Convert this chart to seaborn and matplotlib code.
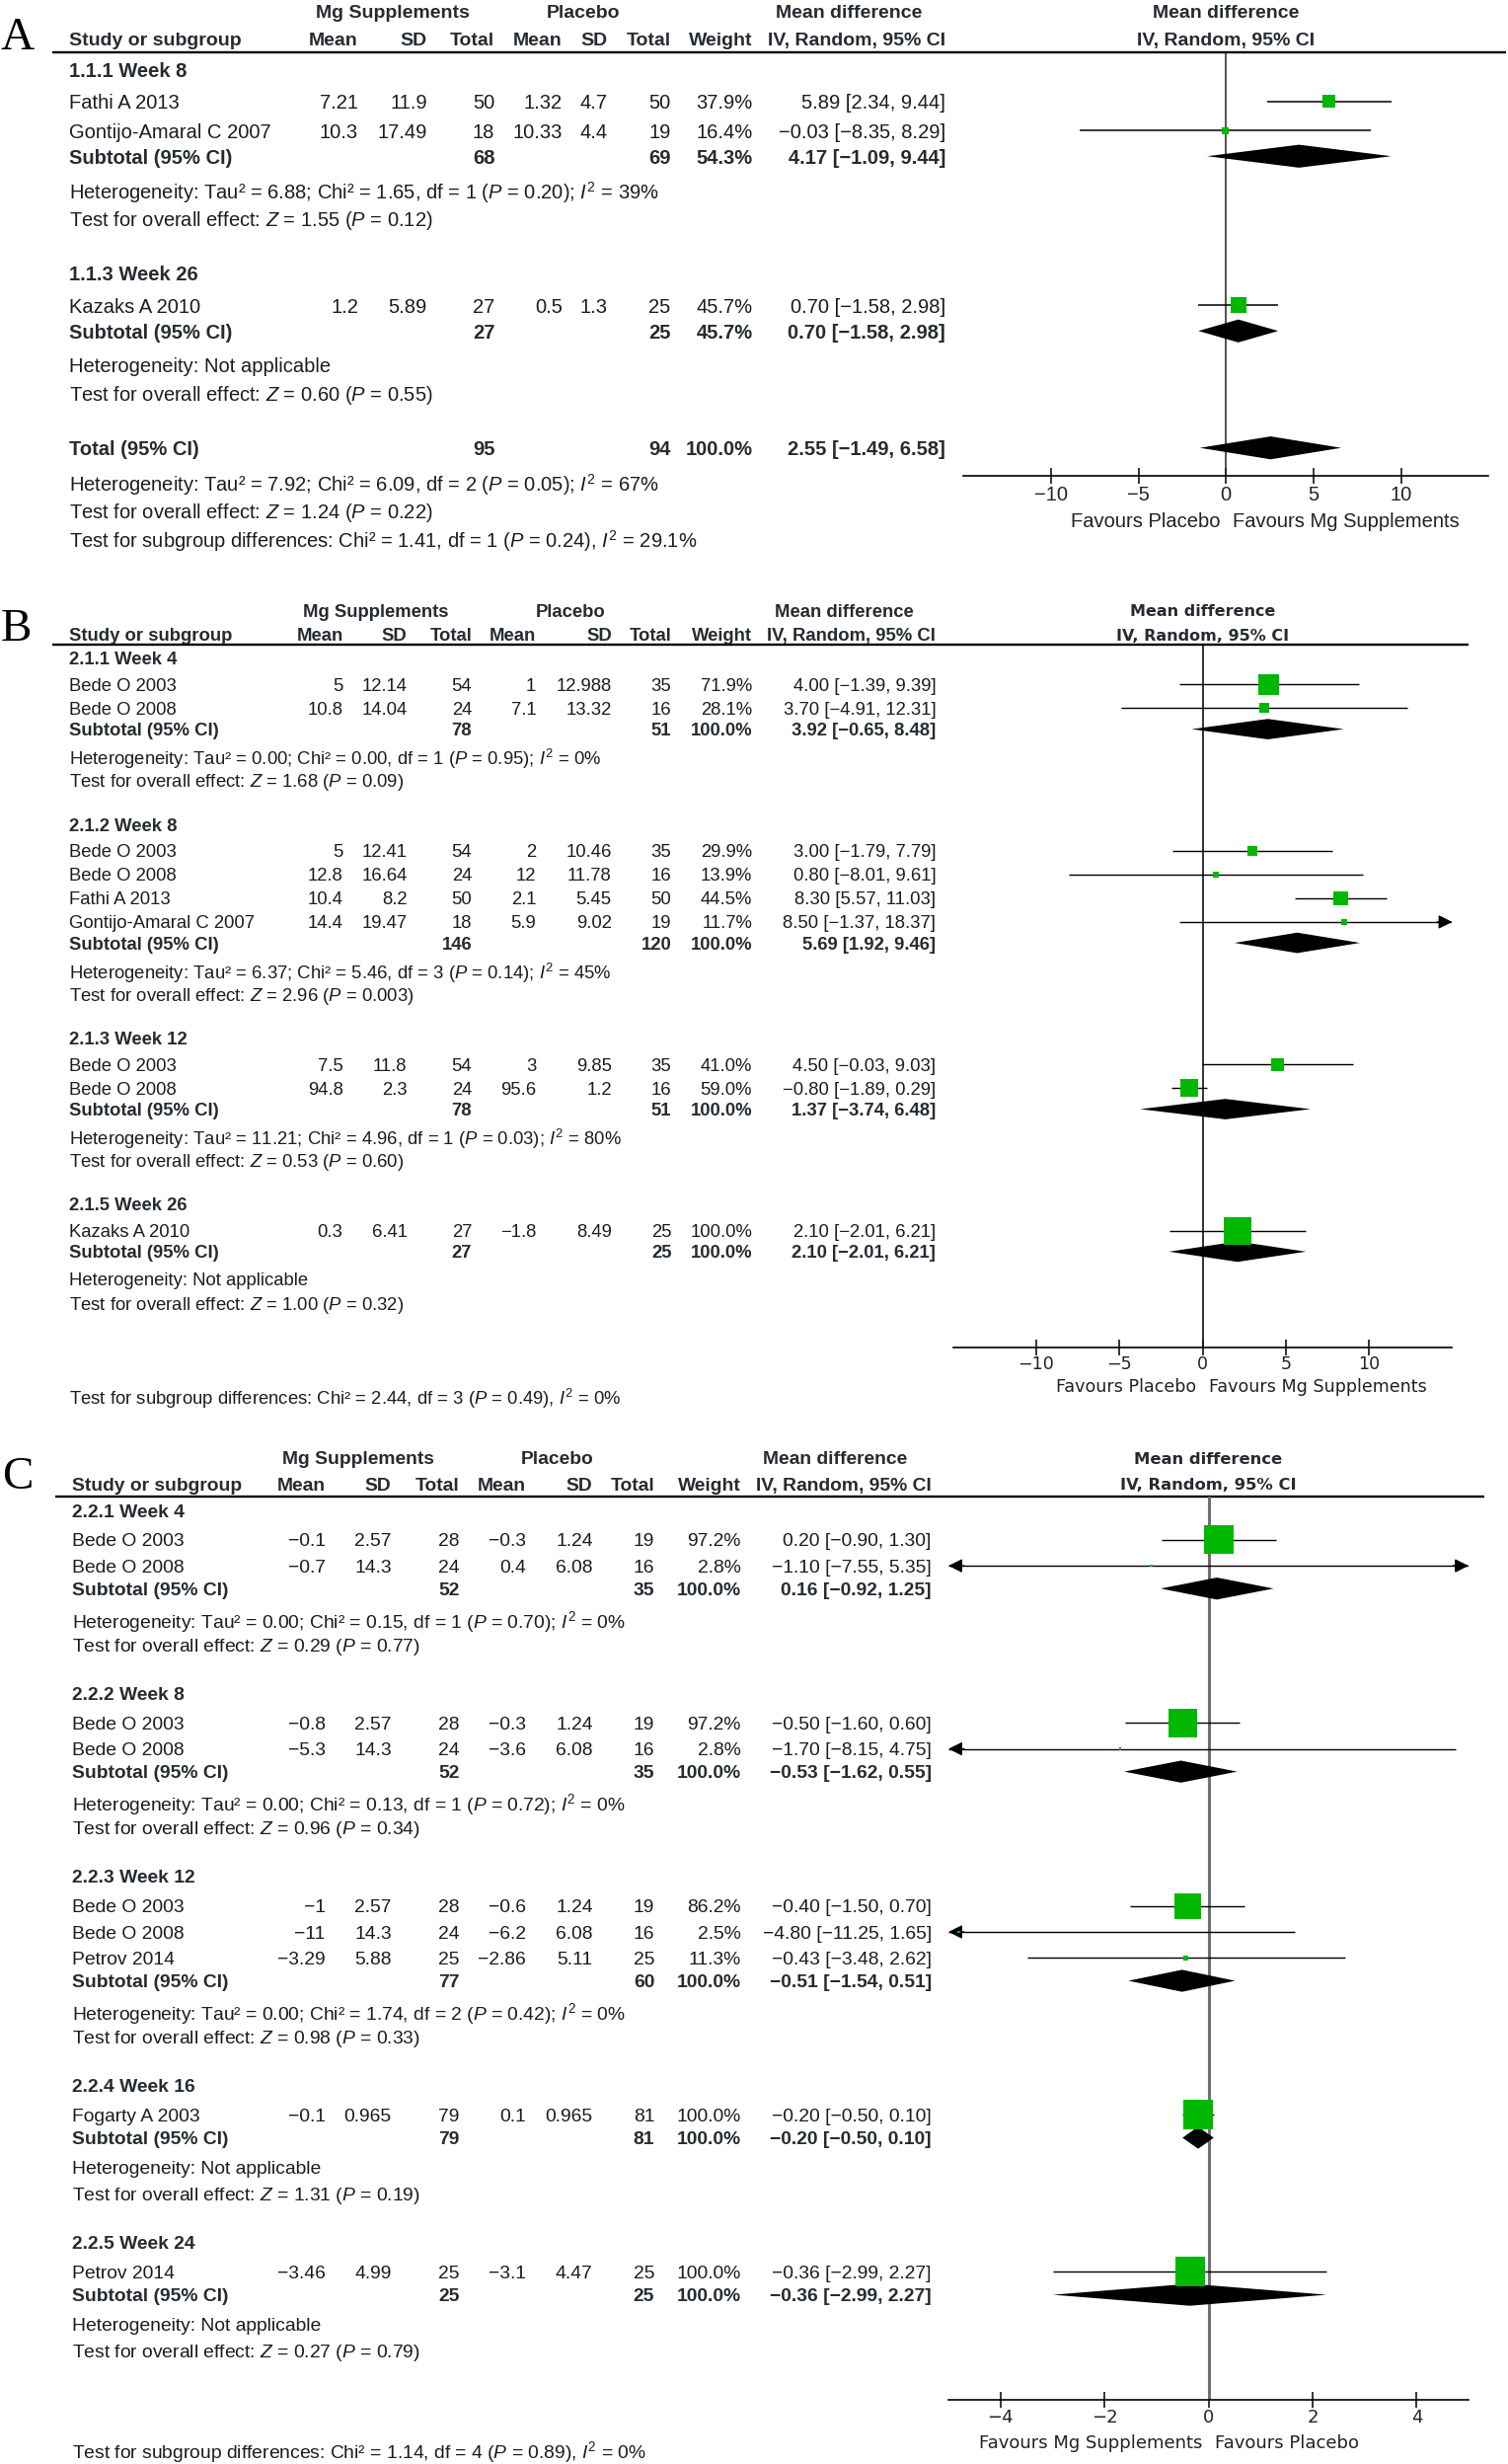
import numpy as np
import pandas as pd
import matplotlib
matplotlib.use("Agg")
import matplotlib.pyplot as plt
import seaborn as sns

sns.set_theme(style="white")
plt.rcParams['font.family'] = ['Liberation Sans', 'DejaVu Sans']
plt.rcParams['mathtext.fontset'] = 'custom'
plt.rcParams['mathtext.rm'] = 'Liberation Sans'
plt.rcParams['mathtext.it'] = 'Liberation Sans:italic'
plt.rcParams['mathtext.bf'] = 'Liberation Sans:bold'

# ======================= DATA =======================
HEAD1 = ["Mg Supplements", "Placebo", "Mean difference"]
HEAD_STUDY = "Study or subgroup"
HEAD2 = ["Mean", "SD", "Total", "Mean", "SD", "Total", "Weight", "IV, Random, 95% CI"]
FOREST_HEAD = ["Mean difference", "IV, Random, 95% CI"]

# ---- Panel A ----
A_groups = ["1.1.1 Week 8", "1.1.3 Week 26"]
A_study = ["Fathi A 2013", "Gontijo-Amaral C 2007", "Kazaks A 2010"]
A_group_of = [0, 0, 1]
A_mg_mean = [7.21, 10.3, 1.2]
A_mg_sd = [11.9, 17.49, 5.89]
A_mg_n = [50, 18, 27]
A_pl_mean = [1.32, 10.33, 0.5]
A_pl_sd = [4.7, 4.4, 1.3]
A_pl_n = [50, 19, 25]
A_weight = [37.9, 16.4, 45.7]
A_md = [5.89, -0.03, 0.70]
A_lo = [2.34, -8.35, -1.58]
A_hi = [9.44, 8.29, 2.98]
A_sub_mg_n = [68, 27]
A_sub_pl_n = [69, 25]
A_sub_weight = [54.3, 45.7]
A_sub_md = [4.17, 0.70]
A_sub_lo = [-1.09, -1.58]
A_sub_hi = [9.44, 2.98]
A_het_tau2 = [6.88, None]
A_het_chi2 = [1.65, None]
A_het_df = [1, None]
A_het_p = [0.20, None]
A_het_i2 = [39, None]
A_z = [1.55, 0.60]
A_z_p = [0.12, 0.55]
A_total = dict(mg_n=95, pl_n=94, weight=100.0, md=2.55, lo=-1.49, hi=6.58,
               tau2=7.92, chi2=6.09, df=2, p=0.05, i2=67, z=1.24, zp=0.22)
A_subgroup_test = dict(chi2=1.41, df=1, p=0.24, i2=29.1)
A_favours = ["Favours Placebo", "Favours Mg Supplements"]
A_ticks = [-10, -5, 0, 5, 10]

# ---- Panel B ----
B_groups = ["2.1.1 Week 4", "2.1.2 Week 8", "2.1.3 Week 12", "2.1.5 Week 26"]
B_study = ["Bede O 2003", "Bede O 2008",
           "Bede O 2003", "Bede O 2008", "Fathi A 2013", "Gontijo-Amaral C 2007",
           "Bede O 2003", "Bede O 2008",
           "Kazaks A 2010"]
B_group_of = [0, 0, 1, 1, 1, 1, 2, 2, 3]
B_mg_mean = [5, 10.8, 5, 12.8, 10.4, 14.4, 7.5, 94.8, 0.3]
B_mg_sd = [12.14, 14.04, 12.41, 16.64, 8.2, 19.47, 11.8, 2.3, 6.41]
B_mg_n = [54, 24, 54, 24, 50, 18, 54, 24, 27]
B_pl_mean = [1, 7.1, 2, 12, 2.1, 5.9, 3, 95.6, -1.8]
B_pl_sd = [12.988, 13.32, 10.46, 11.78, 5.45, 9.02, 9.85, 1.2, 8.49]
B_pl_n = [35, 16, 35, 16, 50, 19, 35, 16, 25]
B_weight = [71.9, 28.1, 29.9, 13.9, 44.5, 11.7, 41.0, 59.0, 100.0]
B_md = [4.00, 3.70, 3.00, 0.80, 8.30, 8.50, 4.50, -0.80, 2.10]
B_lo = [-1.39, -4.91, -1.79, -8.01, 5.57, -1.37, -0.03, -1.89, -2.01]
B_hi = [9.39, 12.31, 7.79, 9.61, 11.03, 18.37, 9.03, 0.29, 6.21]
B_sub_mg_n = [78, 146, 78, 27]
B_sub_pl_n = [51, 120, 51, 25]
B_sub_weight = [100.0, 100.0, 100.0, 100.0]
B_sub_md = [3.92, 5.69, 1.37, 2.10]
B_sub_lo = [-0.65, 1.92, -3.74, -2.01]
B_sub_hi = [8.48, 9.46, 6.48, 6.21]
B_het_tau2 = [0.00, 6.37, 11.21, None]
B_het_chi2 = [0.00, 5.46, 4.96, None]
B_het_df = [1, 3, 1, None]
B_het_p = [0.95, 0.14, 0.03, None]
B_het_i2 = [0, 45, 80, None]
B_z = [1.68, 2.96, 0.53, 1.00]
B_z_p = [0.09, 0.003, 0.60, 0.32]
B_subgroup_test = dict(chi2=2.44, df=3, p=0.49, i2=0)
B_favours = ["Favours Placebo", "Favours Mg Supplements"]
B_ticks = [-10, -5, 0, 5, 10]

# ---- Panel C ----
C_groups = ["2.2.1 Week 4", "2.2.2 Week 8", "2.2.3 Week 12", "2.2.4 Week 16", "2.2.5 Week 24"]
C_study = ["Bede O 2003", "Bede O 2008",
           "Bede O 2003", "Bede O 2008",
           "Bede O 2003", "Bede O 2008", "Petrov 2014",
           "Fogarty A 2003",
           "Petrov 2014"]
C_group_of = [0, 0, 1, 1, 2, 2, 2, 3, 4]
C_mg_mean = [-0.1, -0.7, -0.8, -5.3, -1, -11, -3.29, -0.1, -3.46]
C_mg_sd = [2.57, 14.3, 2.57, 14.3, 2.57, 14.3, 5.88, 0.965, 4.99]
C_mg_n = [28, 24, 28, 24, 28, 24, 25, 79, 25]
C_pl_mean = [-0.3, 0.4, -0.3, -3.6, -0.6, -6.2, -2.86, 0.1, -3.1]
C_pl_sd = [1.24, 6.08, 1.24, 6.08, 1.24, 6.08, 5.11, 0.965, 4.47]
C_pl_n = [19, 16, 19, 16, 19, 16, 25, 81, 25]
C_weight = [97.2, 2.8, 97.2, 2.8, 86.2, 2.5, 11.3, 100.0, 100.0]
C_md = [0.20, -1.10, -0.50, -1.70, -0.40, -4.80, -0.43, -0.20, -0.36]
C_lo = [-0.90, -7.55, -1.60, -8.15, -1.50, -11.25, -3.48, -0.50, -2.99]
C_hi = [1.30, 5.35, 0.60, 4.75, 0.70, 1.65, 2.62, 0.10, 2.27]
C_sub_mg_n = [52, 52, 77, 79, 25]
C_sub_pl_n = [35, 35, 60, 81, 25]
C_sub_weight = [100.0, 100.0, 100.0, 100.0, 100.0]
C_sub_md = [0.16, -0.53, -0.51, -0.20, -0.36]
C_sub_lo = [-0.92, -1.62, -1.54, -0.50, -2.99]
C_sub_hi = [1.25, 0.55, 0.51, 0.10, 2.27]
C_het_tau2 = [0.00, 0.00, 0.00, None, None]
C_het_chi2 = [0.15, 0.13, 1.74, None, None]
C_het_df = [1, 1, 2, None, None]
C_het_p = [0.70, 0.72, 0.42, None, None]
C_het_i2 = [0, 0, 0, None, None]
C_z = [0.29, 0.96, 0.98, 1.31, 0.27]
C_z_p = [0.77, 0.34, 0.33, 0.19, 0.79]
C_subgroup_test = dict(chi2=1.14, df=4, p=0.89, i2=0)
C_favours = ["Favours Mg Supplements", "Favours Placebo"]
C_ticks = [-4, -2, 0, 2, 4]

# ======================= HELPERS =======================
MINUS = "\u2212"


def fmt_num(v):
    return f"{v:g}".replace("-", MINUS)


def fmt_ci(m, lo, hi):
    return f"{m:.2f} [{lo:.2f}, {hi:.2f}]".replace("-", MINUS)


def fmt_p(p):
    return f"{p:.3f}" if p < 0.01 else f"{p:.2f}"


def het_text(tau2, chi2, df, p, i2):
    if tau2 is None:
        return "Heterogeneity: Not applicable"
    return (f"Heterogeneity: Tau\u00b2 = {tau2:.2f}; Chi\u00b2 = {chi2:.2f}, df = {df} "
            f"($\\mathit{{P}}$ = {fmt_p(p)}); $\\mathit{{I}}^2$ = {i2:g}%")


def z_text(z, p):
    return f"Test for overall effect: $\\mathit{{Z}}$ = {z:.2f} ($\\mathit{{P}}$ = {fmt_p(p)})"


def sub_text(d):
    return (f"Test for subgroup differences: Chi\u00b2 = {d['chi2']:.2f}, df = {d['df']} "
            f"($\\mathit{{P}}$ = {fmt_p(d['p'])}), $\\mathit{{I}}^2$ = {d['i2']:g}%")


def row_positions(n_groups, counts, start, steps):
    d_head, d_study, d_sub, d_het, d_test, d_gap = steps
    y = start
    out = []
    for g in range(n_groups):
        gy = y
        y += d_head
        sy = []
        for k in range(counts[g]):
            sy.append(y)
            if k < counts[g] - 1:
                y += d_study
        y += d_sub
        suby = y
        y += d_het
        hety = y
        y += d_test
        testy = y
        out.append((gy, sy, suby, hety, testy))
        y += d_gap
    return out, y


W, H = 960.0, 1568.0
fig = plt.figure(figsize=(15.28, 24.96), dpi=100)
bg = fig.add_axes([0, 0, 1, 1])
bg.set_xlim(0, W)
bg.set_ylim(H, 0)
bg.axis('off')

TXT = '#1c1c1c'
HDR = '#262b31'
GREEN = '#00b800'


def draw_panel(D, L):
    fs, hfs = L['fs'], L['hfs']
    bg.text(L['letter_xy'][0], L['letter_xy'][1], L['letter'], family='Liberation Serif',
            fontsize=34, ha='center', va='center', color='black')
    for lab, cx in zip(HEAD1, L['head1_x']):
        bg.text(cx, L['head1_y'], lab, fontsize=hfs, fontweight='bold', ha='center',
                va='center_baseline', color=HDR)
    bg.text(L['study_x'], L['head2_y'], HEAD_STUDY, fontsize=hfs, fontweight='bold',
            ha='left', va='center_baseline', color=HDR)
    for lab, rx in zip(HEAD2, L['cols']):
        bg.text(rx, L['head2_y'], lab, fontsize=hfs, fontweight='bold', ha='right',
                va='center_baseline', color=HDR)
    bg.plot(L['line_x'], [L['line_y'], L['line_y']], color='black', lw=1.7,
            solid_capstyle='butt')

    # forest axes
    x0, x1, ay, hy = L['forest']
    ax = fig.add_axes([x0 / W, 1 - ay / H, (x1 - x0) / W, (ay - hy) / H])
    ax.patch.set_alpha(0)
    xmin, xmax = L['xlim']

    groups = D['groups']
    counts = [D['group_of'].count(g) for g in range(len(groups))]
    rows, y_end = row_positions(len(groups), counts, L['start_y'], L['steps'])

    study_y = []
    for g, (gy, sy, suby, hety, testy) in enumerate(rows):
        bg.text(L['study_x'], gy, groups[g], fontsize=fs, fontweight='bold', ha='left',
                va='center_baseline', color=HDR)
        study_y.extend(sy)
        bg.text(L['study_x'], suby, "Subtotal (95% CI)", fontsize=fs, fontweight='bold',
                ha='left', va='center_baseline', color=HDR)
        sub_vals = [(D['sub_mg_n'][g], 2), (D['sub_pl_n'][g], 5)]
        for v, ci in sub_vals:
            bg.text(L['cols'][ci], suby, f"{v}", fontsize=fs, fontweight='bold', ha='right',
                    va='center_baseline', color=HDR)
        bg.text(L['cols'][6], suby, f"{D['sub_weight'][g]:.1f}%", fontsize=fs, fontweight='bold',
                ha='right', va='center_baseline', color=HDR)
        bg.text(L['cols'][7], suby, fmt_ci(D['sub_md'][g], D['sub_lo'][g], D['sub_hi'][g]),
                fontsize=fs, fontweight='bold', ha='right', va='center_baseline', color=HDR)
        bg.text(L['study_x'], hety, het_text(D['tau2'][g], D['chi2'][g], D['df'][g],
                                             D['hp'][g], D['i2'][g]),
                fontsize=fs, ha='left', va='center_baseline', color=TXT)
        bg.text(L['study_x'], testy, z_text(D['z'][g], D['zp'][g]), fontsize=fs,
                ha='left', va='center_baseline', color=TXT)
        # subtotal diamond
        h = L['diamond_h']
        ax.fill([D['sub_lo'][g], D['sub_md'][g], D['sub_hi'][g], D['sub_md'][g]],
                [suby, suby - h, suby, suby + h], color='black', lw=0, zorder=3)

    # study rows
    for i, y in enumerate(study_y):
        bg.text(L['study_x'], y, D['study'][i], fontsize=fs, ha='left',
                va='center_baseline', color=TXT)
        vals = [fmt_num(D['mg_mean'][i]), fmt_num(D['mg_sd'][i]), f"{D['mg_n'][i]}",
                fmt_num(D['pl_mean'][i]), fmt_num(D['pl_sd'][i]), f"{D['pl_n'][i]}",
                f"{D['weight'][i]:.1f}%", fmt_ci(D['md'][i], D['lo'][i], D['hi'][i])]
        for v, rx in zip(vals, L['cols']):
            bg.text(rx, y, v, fontsize=fs, ha='right', va='center_baseline', color=TXT)
        lo, hi = D['lo'][i], D['hi'][i]
        ax.plot([max(lo, xmin), min(hi, xmax)], [y, y], color='black', lw=L['ci_lw'],
                solid_capstyle='butt', zorder=2)
        span = xmax - xmin
        if lo < xmin:
            ax.annotate('', xy=(xmin, y), xytext=(xmin + 0.03 * span, y),
                        arrowprops=dict(arrowstyle='-|>,head_length=0.7,head_width=0.35',
                                        color='black', lw=L['ci_lw'], shrinkA=0, shrinkB=0,
                                        mutation_scale=12), annotation_clip=False)
        if hi > xmax:
            ax.annotate('', xy=(xmax, y), xytext=(xmax - 0.03 * span, y),
                        arrowprops=dict(arrowstyle='-|>,head_length=0.7,head_width=0.35',
                                        color='black', lw=L['ci_lw'], shrinkA=0, shrinkB=0,
                                        mutation_scale=12), annotation_clip=False)

    a, b = L['box']
    sizes = [((a + b * w) * 0.72) ** 2 for w in D['weight']]
    sns.scatterplot(x=D['md'], y=study_y, s=sizes, marker='s', color=GREEN, linewidth=0,
                    ax=ax, zorder=4, legend=False)

    # overall total (panel A)
    y = y_end
    if D.get('total') is not None:
        T = D['total']
        bg.text(L['study_x'], y, "Total (95% CI)", fontsize=fs, fontweight='bold', ha='left',
                va='center_baseline', color=HDR)
        for v, ci in [(f"{T['mg_n']}", 2), (f"{T['pl_n']}", 5), (f"{T['weight']:.1f}%", 6),
                      (fmt_ci(T['md'], T['lo'], T['hi']), 7)]:
            bg.text(L['cols'][ci], y, v, fontsize=fs, fontweight='bold', ha='right',
                    va='center_baseline', color=HDR)
        h = L['diamond_h']
        ax.fill([T['lo'], T['md'], T['hi'], T['md']], [y, y - h, y, y + h], color='black',
                lw=0, zorder=3)
        y2 = y + L['total_steps'][0]
        bg.text(L['study_x'], y2, het_text(T['tau2'], T['chi2'], T['df'], T['p'], T['i2']),
                fontsize=fs, ha='left', va='center_baseline', color=TXT)
        y3 = y2 + L['total_steps'][1]
        bg.text(L['study_x'], y3, z_text(T['z'], T['zp']), fontsize=fs, ha='left',
                va='center_baseline', color=TXT)
        sub_y = y3 + L['total_steps'][2]
    else:
        sub_y = L['subtest_y']
    bg.text(L['study_x'], sub_y, sub_text(D['subtest']), fontsize=fs, ha='left',
            va='center_baseline', color=TXT)

    # forest axes styling
    ax.axvline(0, color=L['zero_color'], lw=L['zero_lw'], zorder=1)
    ax.set_xlim(xmin, xmax)
    ax.set_ylim(ay, hy)
    for s in ['left', 'right', 'top']:
        ax.spines[s].set_visible(False)
    ax.spines['bottom'].set_visible(True)
    ax.spines['bottom'].set_color('black')
    ax.spines['bottom'].set_linewidth(1.2)
    ax.set_yticks([])
    ax.set_xlabel('')
    ax.set_ylabel('')
    ax.set_xticks(D['ticks'])
    ax.set_xticklabels([fmt_num(t) for t in D['ticks']])
    ax.tick_params(axis='x', direction='inout', length=11, width=1.1, pad=L['tick_pad'],
                   labelsize=L['tick_fs'], colors='black', bottom=True)
    for lab in ax.get_xticklabels():
        lab.set_family(L['forest_font'])
        lab.set_color('#222222')
    # forest header
    fx = (x0 + x1) / 2
    for lab, yy in zip(FOREST_HEAD, [L['head1_y'], L['head2_y']]):
        bg.text(fx, yy, lab, family=L['forest_font'], fontsize=L['fhead_fs'], fontweight='bold',
                ha='center', va='center_baseline', color=HDR)
    # favours labels
    ax.annotate(D['favours'][0], xy=(0, L['fav_y']), xytext=(-L['fav_off'], 0),
                textcoords='offset points', ha='right', va='center_baseline',
                family=L['forest_font'], fontsize=L['fav_fs'], color='#222222',
                annotation_clip=False)
    ax.annotate(D['favours'][1], xy=(0, L['fav_y']), xytext=(L['fav_off'], 0),
                textcoords='offset points', ha='left', va='center_baseline',
                family=L['forest_font'], fontsize=L['fav_fs'], color='#222222',
                annotation_clip=False)


def pack(prefix, total=None):
    g = globals()
    return dict(groups=g[prefix + 'groups'], study=g[prefix + 'study'], group_of=g[prefix + 'group_of'],
                mg_mean=g[prefix + 'mg_mean'], mg_sd=g[prefix + 'mg_sd'], mg_n=g[prefix + 'mg_n'],
                pl_mean=g[prefix + 'pl_mean'], pl_sd=g[prefix + 'pl_sd'], pl_n=g[prefix + 'pl_n'],
                weight=g[prefix + 'weight'], md=g[prefix + 'md'], lo=g[prefix + 'lo'], hi=g[prefix + 'hi'],
                sub_mg_n=g[prefix + 'sub_mg_n'], sub_pl_n=g[prefix + 'sub_pl_n'],
                sub_weight=g[prefix + 'sub_weight'], sub_md=g[prefix + 'sub_md'],
                sub_lo=g[prefix + 'sub_lo'], sub_hi=g[prefix + 'sub_hi'],
                tau2=g[prefix + 'het_tau2'], chi2=g[prefix + 'het_chi2'], df=g[prefix + 'het_df'],
                hp=g[prefix + 'het_p'], i2=g[prefix + 'het_i2'], z=g[prefix + 'z'], zp=g[prefix + 'z_p'],
                subtest=g[prefix + 'subgroup_test'], favours=g[prefix + 'favours'],
                ticks=g[prefix + 'ticks'], total=total)


LAYOUT_A = dict(letter='A', letter_xy=(11, 24.6), head1_y=7.3, head2_y=25.1, line_y=33.5,
                line_x=(33, 959), study_x=44,
                cols=[228, 272, 315, 358, 386.5, 427, 479, 602],
                head1_x=[250, 371, 540.5], start_y=44,
                steps=(20.5, 18.6, 16.3, 21.4, 18.0, 35.0), total_steps=(21.4, 18.2, 17.8),
                fs=14.5, hfs=14, forest=(613.4, 947.6, 303, 33.5), xlim=(-15, 15),
                box=(2.5, 0.29), diamond_h=7.3, ci_lw=1.1, zero_color='#222222', zero_lw=1.1,
                tick_pad=1.5, tick_fs=14.5, forest_font='Liberation Sans', fhead_fs=14,
                fav_y=331, fav_off=4.5, fav_fs=14.5, subtest_y=None)

LAYOUT_B = dict(letter='B', letter_xy=(10.5, 400.5), head1_y=388.5, head2_y=403.8, line_y=410.3,
                line_x=(33, 935), study_x=44,
                cols=[218.4, 259.2, 300.5, 341.3, 389.4, 427.5, 478.8, 595.8],
                head1_x=[239, 363.5, 537.7], start_y=418.8,
                steps=(16.8, 15.1, 13.3, 17.3, 14.9, 28.4), total_steps=None,
                fs=13.3, hfs=13.3, forest=(606.6, 924.5, 857.5, 410.3), xlim=(-15, 15),
                box=(3.0, 0.25), diamond_h=6.5, ci_lw=1.0, zero_color='#111111', zero_lw=1.2,
                tick_pad=0.0, tick_fs=12.6, forest_font='DejaVu Sans', fhead_fs=11.5,
                fav_y=881.2, fav_off=4.5, fav_fs=12.6, subtest_y=888)

LAYOUT_C = dict(letter='C', letter_xy=(11, 940), head1_y=927.7, head2_y=944.5, line_y=952.4,
                line_x=(35, 945), study_x=46,
                cols=[207.1, 249.2, 292.5, 335, 377.4, 416.7, 471.6, 593],
                head1_x=[228, 354.5, 531.7], start_y=961.2,
                steps=(18.6, 16.6, 14.5, 19.0, 16.4, 31.4), total_steps=None,
                fs=13.9, hfs=13.9, forest=(603.8, 934.9, 1527, 952.4), xlim=(-5, 5),
                box=(2.0, 0.28), diamond_h=7.0, ci_lw=1.0, zero_color='#707070', zero_lw=2.2,
                tick_pad=1.5, tick_fs=13, forest_font='DejaVu Sans', fhead_fs=11.8,
                fav_y=1553.5, fav_off=4.5, fav_fs=13, subtest_y=1558.5)

draw_panel(pack('A_', total=A_total), LAYOUT_A)
draw_panel(pack('B_'), LAYOUT_B)
draw_panel(pack('C_'), LAYOUT_C)

fig.savefig("out.png", dpi=100, facecolor='white')
